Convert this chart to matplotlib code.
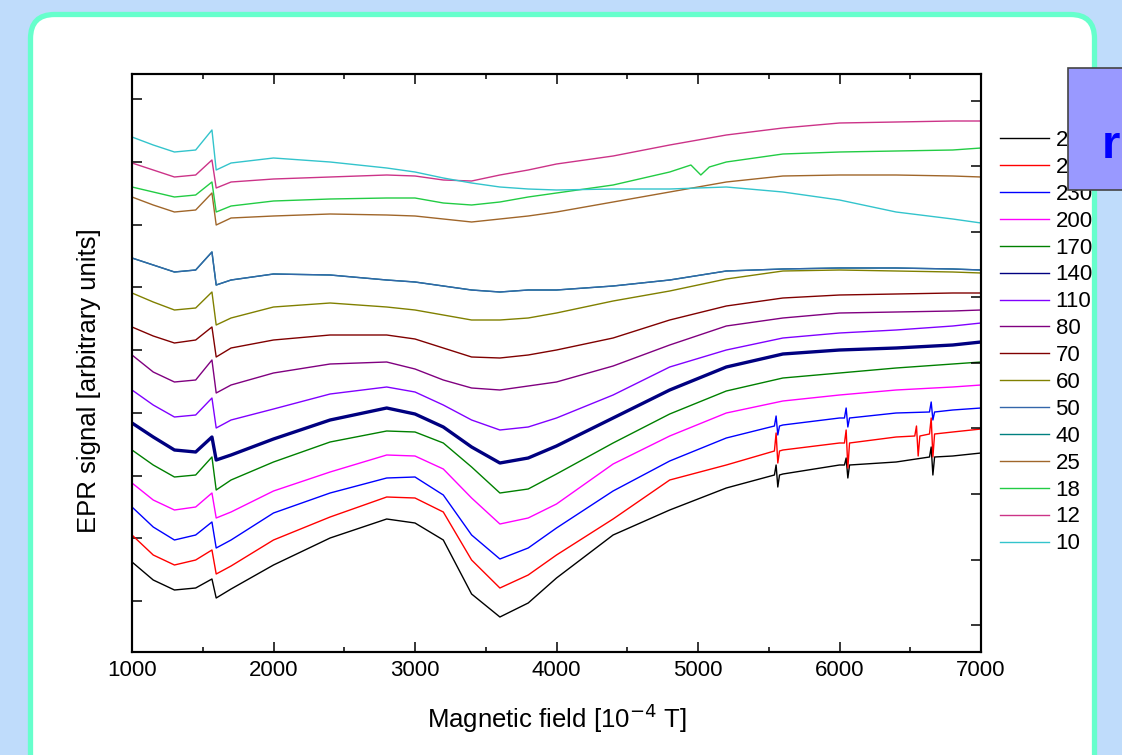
import numpy as np
import matplotlib.pyplot as plt
from matplotlib.patches import FancyBboxPatch, Rectangle

plt.rcParams['font.family'] = ['Liberation Sans', 'DejaVu Sans']

# magnetic field grid [10^-4 T]
field = [1000, 1150, 1300, 1450, 1565, 1595, 1700, 2000, 2400, 2800, 3000, 3200,
         3400, 3600, 3800, 4000, 4400, 4800, 5200, 5600, 6000, 6400, 6800, 7000]

# EPR signal (arbitrary units, offset per temperature)
s290 = [90, 72, 62, 64, 73, 54, 63, 87, 114, 133, 129, 112, 58, 35, 49, 74, 117, 142, 164, 178, 187, 190, 196, 199]
s260 = [117, 97, 87, 92, 102, 78, 86, 112, 135, 155, 154, 140, 92, 64, 77, 97, 133, 172, 187, 202, 209, 215, 220, 223]
s230 = [145, 125, 112, 117, 130, 104, 112, 139, 159, 174, 175, 157, 117, 93, 104, 124, 161, 191, 214, 227, 234, 239, 242, 244]
s200 = [169, 152, 142, 145, 159, 134, 140, 161, 180, 197, 196, 183, 154, 128, 134, 148, 188, 216, 239, 251, 257, 262, 265, 267]
s170 = [202, 187, 175, 177, 195, 162, 172, 190, 210, 221, 220, 209, 185, 159, 163, 178, 209, 238, 261, 274, 279, 284, 288, 290]
s140 = [229, 215, 202, 200, 215, 192, 197, 213, 232, 244, 238, 225, 205, 189, 194, 206, 234, 262, 285, 298, 302, 304, 307, 310]
s110 = [262, 247, 235, 237, 254, 224, 232, 243, 258, 265, 260, 247, 232, 222, 225, 234, 257, 285, 302, 314, 319, 322, 326, 329]
s80 = [297, 280, 270, 272, 292, 259, 267, 279, 288, 290, 283, 272, 264, 262, 266, 270, 286, 307, 326, 334, 339, 340, 341, 342]
s70 = [325, 316, 309, 312, 325, 295, 304, 312, 317, 317, 313, 304, 295, 294, 297, 302, 314, 332, 346, 354, 357, 358, 359, 359]
s60 = [359, 350, 342, 344, 360, 327, 334, 345, 349, 345, 342, 337, 332, 332, 334, 339, 351, 361, 373, 381, 382, 381, 380, 379]
s50 = [394, 387, 380, 382, 400, 367, 372, 378, 377, 372, 370, 366, 362, 360, 362, 362, 366, 372, 381, 383, 384, 384, 383, 382]
s40 = [394, 387, 380, 382, 400, 367, 372, 378, 377, 372, 370, 366, 362, 360, 362, 362, 366, 372, 381, 383, 384, 384, 383, 382]
s25 = [455, 447, 440, 442, 459, 427, 434, 436, 438, 437, 436, 433, 430, 433, 436, 440, 450, 460, 470, 476, 477, 477, 476, 475]
s18 = [465, 460, 455, 457, 470, 440, 446, 451, 453, 454, 454, 449, 447, 450, 455, 459, 467, 480, 490, 498, 500, 501, 502, 504]
s12 = [489, 482, 475, 477, 492, 464, 470, 473, 475, 477, 476, 472, 471, 477, 482, 488, 496, 507, 517, 524, 529, 530, 531, 531]
s10 = [515, 507, 500, 502, 522, 482, 489, 494, 490, 484, 480, 474, 469, 465, 463, 462, 463, 463, 465, 460, 452, 440, 433, 429]

# narrow features (spikes / small dip): field positions and signal values
spk_f290 = [5540, 5552, 5564, 5576, 6035, 6047, 6059, 6071, 6636, 6648, 6660, 6672]
spk_290 = [177, 187, 165, 177, 187, 194, 174, 187, 195, 205, 177, 195]
spk_f260 = [5540, 5552, 5564, 5576, 6035, 6047, 6059, 6071,
            6532, 6544, 6556, 6568, 6636, 6648, 6660, 6672]
spk_260 = [201, 219, 189, 201, 209, 222, 184, 209, 216, 226, 196, 216, 218, 234, 195, 218]
spk_f230 = [5540, 5552, 5564, 5576, 6035, 6047, 6059, 6071, 6636, 6648, 6660, 6672]
spk_230 = [226, 236, 217, 226, 234, 244, 225, 234, 240, 250, 232, 240]
dip_f18 = [4950, 5020, 5080]
dip_18 = [487, 477, 485]

labels = ['290', '260', '230', '200', '170', '140', '110', '80', '70', '60',
          '50', '40', '25', '18', '12', '10']
colors = ['#000000', '#ff0000', '#0000ff', '#ff00ff', '#008000', '#000080',
          '#8000ff', '#800080', '#800000', '#808000', '#3366aa', '#008080',
          '#a0662a', '#22cc44', '#cc3388', '#33c4cc']
series = [s290, s260, s230, s200, s170, s140, s110, s80, s70, s60, s50, s40,
          s25, s18, s12, s10]
extras = {'290': (spk_f290, spk_290), '260': (spk_f260, spk_260),
          '230': (spk_f230, spk_230), '18': (dip_f18, dip_18)}


def merged(lab, vals):
    x = np.array(field, float)
    y = np.array(vals, float)
    if lab in extras:
        x = np.concatenate([x, extras[lab][0]])
        y = np.concatenate([y, extras[lab][1]])
        o = np.argsort(x)
        x, y = x[o], y[o]
    return x, y


fig = plt.figure(figsize=(11.22, 7.55), dpi=100)
fig.patch.set_facecolor('#bfdcfb')

# slide panel
bg = fig.add_axes([0, 0, 1, 1], zorder=-10)
bg.set_xlim(0, 1122)
bg.set_ylim(755, 0)
bg.axis('off')
bg.add_patch(FancyBboxPatch((30.5, 14.5), 1064, 800,
                            boxstyle='round,pad=0,rounding_size=24',
                            fc='white', ec='#66ffcc', lw=3.8))

ax = fig.add_axes([132 / 1122, 1 - 652 / 755, 849 / 1122, 578 / 755])
ax.patch.set_alpha(0)

handles = []
for lab, col, vals in zip(labels, colors, series):
    x, y = merged(lab, vals)
    lw = 2.4 if lab == '140' else 1.0
    z = 1 if lab == '40' else 2
    h, = ax.plot(x, y, color=col, lw=lw, zorder=z)
    handles.append(h)

ax.set_xlim(1000, 7000)
ax.set_ylim(0, 578)
ax.set_xticks(np.arange(1000, 7001, 1000))
ax.set_xticks(np.arange(1500, 7000, 1000), minor=True)
ax.set_yticks(51 + 62.7 * np.arange(9))
ax.set_yticklabels([])
ax.tick_params(which='both', direction='in', top=True, right=False, width=1.1)
ax.tick_params(which='major', length=7.2, labelsize=16, pad=6)
ax.tick_params(which='minor', length=3.6)
for sp in ax.spines.values():
    sp.set_linewidth(1.5)

ax2 = ax.twinx()
ax2.set_ylim(0, 578)
ax2.set_yticks(27 + 65.5 * np.arange(9))
ax2.tick_params(direction='in', length=7.2, width=1.1, labelright=False)
for sp in ax2.spines.values():
    sp.set_linewidth(1.5)

ax.set_xlabel('Magnetic field [10$^{-4}$ T]', fontsize=18.5)
ax.xaxis.set_label_coords(0.5, -0.085)
ax.set_ylabel('EPR signal [arbitrary units]', fontsize=18.5)
ax.yaxis.set_label_coords(-0.037, 0.47)

leg_h = [plt.Line2D([], [], color=h.get_color(), lw=1.0) for h in handles]
fig.legend(leg_h, labels, loc='upper left',
           bbox_to_anchor=(1000 / 1122, 1 - 130 / 755),
           frameon=False, fontsize=16, handlelength=2.2, handletextpad=0.3,
           labelspacing=0.265, borderpad=0, borderaxespad=0)

fig.add_artist(Rectangle((1068 / 1122, 1 - 190 / 755), 0.1, 122 / 755,
                         transform=fig.transFigure, fc='#9999ff',
                         ec='#444444', lw=1.2, zorder=10))
fig.text(1102 / 1122, 1 - 158 / 755, 'r', fontsize=34, weight='bold',
         color='#0000ff', va='baseline', ha='left', zorder=11)

fig.savefig('out.png', dpi=100)
